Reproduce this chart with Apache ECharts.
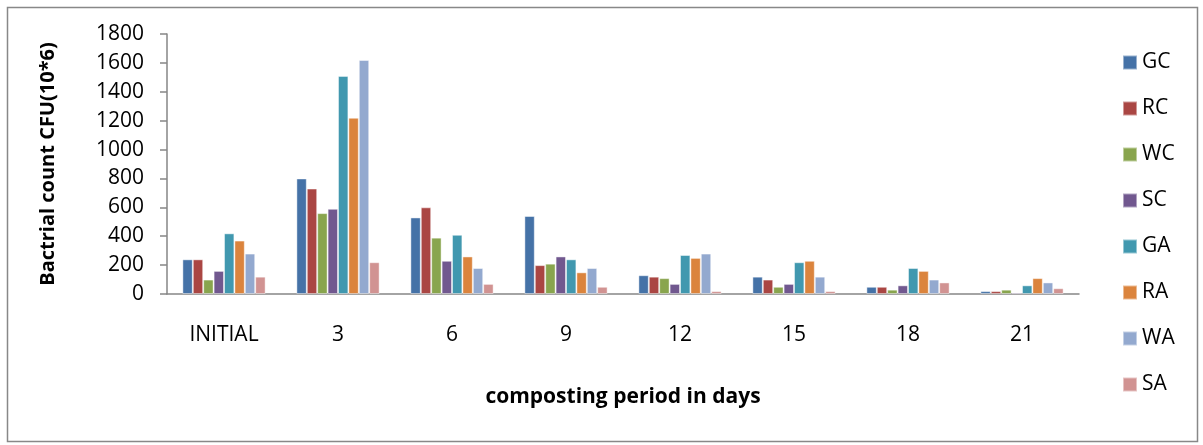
<!DOCTYPE html>
<html>
<head>
<meta charset="utf-8">
<script src="https://cdn.jsdelivr.net/npm/echarts@6/dist/echarts.min.js"></script>
<style>
  html, body { margin: 0; padding: 0; background: #fff; }
  #chart { width: 1203px; height: 445px; }
</style>
</head>
<body>
<div id="chart"></div>
<script>
// categories (composting period)
const days = ['INITIAL', '3', '6', '9', '12', '15', '18', '21'];

// bacterial counts per treatment
const GC = [240, 800, 530, 540, 130, 120, 50, 20];
const RC = [240, 730, 600, 200, 120, 100, 50, 20];
const WC = [100, 560, 390, 210, 110, 50, 30, 30];
const SC = [160, 590, 230, 260, 70, 70, 60, 10];
const GA = [420, 1510, 410, 240, 270, 220, 180, 60];
const RA = [370, 1220, 260, 150, 250, 230, 160, 110];
const WA = [280, 1620, 180, 180, 280, 120, 100, 80];
const SA = [120, 220, 70, 50, 20, 20, 80, 40];

const seriesNames = ['GC', 'RC', 'WC', 'SC', 'GA', 'RA', 'WA', 'SA'];
const seriesData = [GC, RC, WC, SC, GA, RA, WA, SA];
const colors = ['#4572A7', '#AA4643', '#89A54E', '#71588F', '#4198AF', '#DB843D', '#93A9CF', '#D19392'];

const font = '"Open Sans", "Liberation Sans", sans-serif';

const dom = document.getElementById('chart');
const myChart = echarts.init(dom);

const option = {
  animation: false,
  color: colors,
  textStyle: { fontFamily: font },
  graphic: [
    {
      type: 'rect',
      shape: { x: 7.5, y: 7.5, width: 1190, height: 434 },
      style: { fill: 'none', stroke: '#888', lineWidth: 1.5 },
      silent: true
    }
  ],
  grid: { left: 167, right: 124, top: 34, bottom: 151, containLabel: false },
  legend: {
    orient: 'vertical',
    left: 1122,
    top: 52,
    padding: 0,
    itemWidth: 14,
    itemHeight: 14,
    itemGap: 25,
    icon: 'rect',
    textStyle: { fontSize: 21, color: '#000', fontFamily: font },
    data: seriesNames
  },
  xAxis: {
    type: 'category',
    data: days,
    name: 'composting period in days',
    nameLocation: 'middle',
    nameGap: 93,
    nameTextStyle: { fontSize: 21, fontWeight: 'bold', color: '#000', fontFamily: font },
    axisLine: { lineStyle: { color: '#868686', width: 1.5 } },
    axisTick: { show: false },
    axisLabel: { fontSize: 21, color: '#000', margin: 31, fontFamily: font }
  },
  yAxis: {
    type: 'value',
    min: 0,
    max: 1800,
    interval: 200,
    name: 'Bactrial count CFU(10*6)',
    nameLocation: 'middle',
    nameGap: 109,
    nameTextStyle: { fontSize: 20, fontWeight: 'bold', color: '#000', fontFamily: font },
    axisLine: { show: true, lineStyle: { color: '#868686', width: 1.5 } },
    axisTick: { show: true, length: 7, lineStyle: { color: '#868686', width: 1.5 } },
    axisLabel: {
      fontSize: 21,
      color: '#000',
      margin: 23,
      fontFamily: font,
      formatter: function (v) { return String(v); }
    },
    splitLine: { show: false }
  },
  series: seriesNames.map(function (name, i) {
    return {
      name: name,
      type: 'bar',
      data: seriesData[i],
      barGap: '0%',
      barCategoryGap: '27%',
      itemStyle: { borderColor: 'rgba(255,255,255,0.45)', borderWidth: 1 }
    };
  })
};

myChart.setOption(option, true);
</script>
</body>
</html>
